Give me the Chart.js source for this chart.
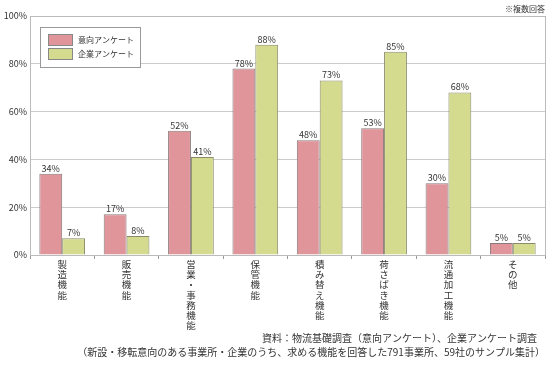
<!DOCTYPE html>
<html>
<head>
<meta charset="utf-8">
<script src="https://cdn.jsdelivr.net/npm/chart.js@4.4.0/dist/chart.umd.min.js"></script>
<style>
  html, body { margin: 0; padding: 0; background: #fff; }
  #wrap { width: 550px; height: 367px; }
</style>
</head>
<body>
<div id="wrap"><canvas id="chart" width="550" height="367"></canvas></div>
<script>
// categories and values
var categories = ["製造機能", "販売機能", "営業・事務機能", "保管機能", "積み替え機能", "荷さばき機能", "流通加工機能", "その他"];
var seriesNames = ["意向アンケート", "企業アンケート"];
var ikouValues = [34, 17, 52, 78, 48, 53, 30, 5];
var kigyouValues = [7, 8, 41, 88, 73, 85, 68, 5];
var yTicks = [0, 20, 40, 60, 80, 100];

var noteText = "※複数回答";
var sourceLine1 = "資料：物流基礎調査（意向アンケート）、企業アンケート調査";
var sourceLine2 = "（新設・移転意向のある事業所・企業のうち、求める機能を回答した791事業所、59社のサンプル集計）";

var fontFamily = "'Noto Sans CJK JP', 'Noto Sans', sans-serif";
var pink = "#e0959b";
var green = "#d4db8f";

// vertical labels: one character per line
var verticalLabels = categories.map(function (c) { return c.split(""); });

var extras = {
    id: "extras",
    afterDraw: function (chart) {
        var ctx = chart.ctx;
        var a = chart.chartArea;
        ctx.save();
        // frame round the plot
        ctx.strokeStyle = "#bbbbbb";
        ctx.lineWidth = 1;
        ctx.strokeRect(Math.round(a.left) + 0.5, Math.round(a.top) + 0.5, Math.round(a.right - a.left), Math.round(a.bottom - a.top));

        // value labels above bars
        ctx.font = "9px " + fontFamily;
        ctx.fillStyle = "#333";
        ctx.textAlign = "center";
        ctx.textBaseline = "bottom";
        chart.data.datasets.forEach(function (ds, i) {
            chart.getDatasetMeta(i).data.forEach(function (bar, j) {
                ctx.fillText(ds.data[j] + "%", bar.x, bar.y - 1);
            });
        });

        // legend box
        var lx = 40, ly = 27, lw = 100, lh = 40;
        ctx.fillStyle = "#fff";
        ctx.fillRect(lx, ly, lw, lh);
        ctx.strokeStyle = "#999";
        ctx.strokeRect(lx + 0.5, ly + 0.5, lw, lh);
        var colors = [pink, green];
        ctx.textAlign = "left";
        ctx.textBaseline = "middle";
        ctx.font = "8px " + fontFamily;
        seriesNames.forEach(function (name, i) {
            var sy = ly + 7 + i * 14;
            ctx.fillStyle = colors[i];
            ctx.fillRect(lx + 8, sy, 24, 11);
            ctx.strokeStyle = "#888";
            ctx.strokeRect(lx + 8.5, sy + 0.5, 24, 11);
            ctx.fillStyle = "#333";
            ctx.fillText(name, lx + 38, sy + 6);
        });

        // notes
        ctx.font = "8px " + fontFamily;
        ctx.textAlign = "right";
        ctx.fillStyle = "#333";
        ctx.fillText(noteText, 545, 9);
        ctx.font = "10px " + fontFamily;
        ctx.fillText(sourceLine1, 537, 338);
        ctx.fillText(sourceLine2, 545, 352);
        ctx.restore();
    }
};

var config = {
    type: "bar",
    data: {
        labels: verticalLabels,
        datasets: [{
            label: seriesNames[0],
            data: ikouValues,
            backgroundColor: pink,
            borderColor: "#8a7a7a",
            borderWidth: 1,
            barPercentage: 1,
            categoryPercentage: 0.71
        }, {
            label: seriesNames[1],
            data: kigyouValues,
            backgroundColor: green,
            borderColor: "#8a8a6a",
            borderWidth: 1,
            barPercentage: 1,
            categoryPercentage: 0.71
        }]
    },
    options: {
        responsive: false,
        animation: false,
        layout: { padding: { top: 16, right: 5, left: 0, bottom: 0 } },
        plugins: {
            legend: { display: false },
            tooltip: { enabled: false }
        },
        scales: {
            x: {
                offset: true,
                grid: { offset: true, drawOnChartArea: false, tickLength: 4, color: "#999" },
                border: { color: "#999" },
                ticks: {
                    maxRotation: 0,
                    autoSkip: false,
                    color: "#333",
                    padding: 0,
                    font: { family: fontFamily, size: 9.5, lineHeight: 1.08 }
                },
                afterFit: function (scale) { scale.height = 112; }
            },
            y: {
                min: 0,
                max: 100,
                afterBuildTicks: function (scale) {
                    scale.ticks = yTicks.map(function (v) { return { value: v }; });
                },
                grid: { color: "#cccccc", drawTicks: false },
                border: { color: "#999" },
                ticks: {
                    color: "#333",
                    padding: 3,
                    font: { family: fontFamily, size: 9 },
                    callback: function (v) { return v + "%"; }
                },
                afterFit: function (scale) { scale.width = 30; }
            }
        }
    },
    plugins: [extras]
};

var chart = new Chart(document.getElementById("chart"), config);
</script>
</body>
</html>
